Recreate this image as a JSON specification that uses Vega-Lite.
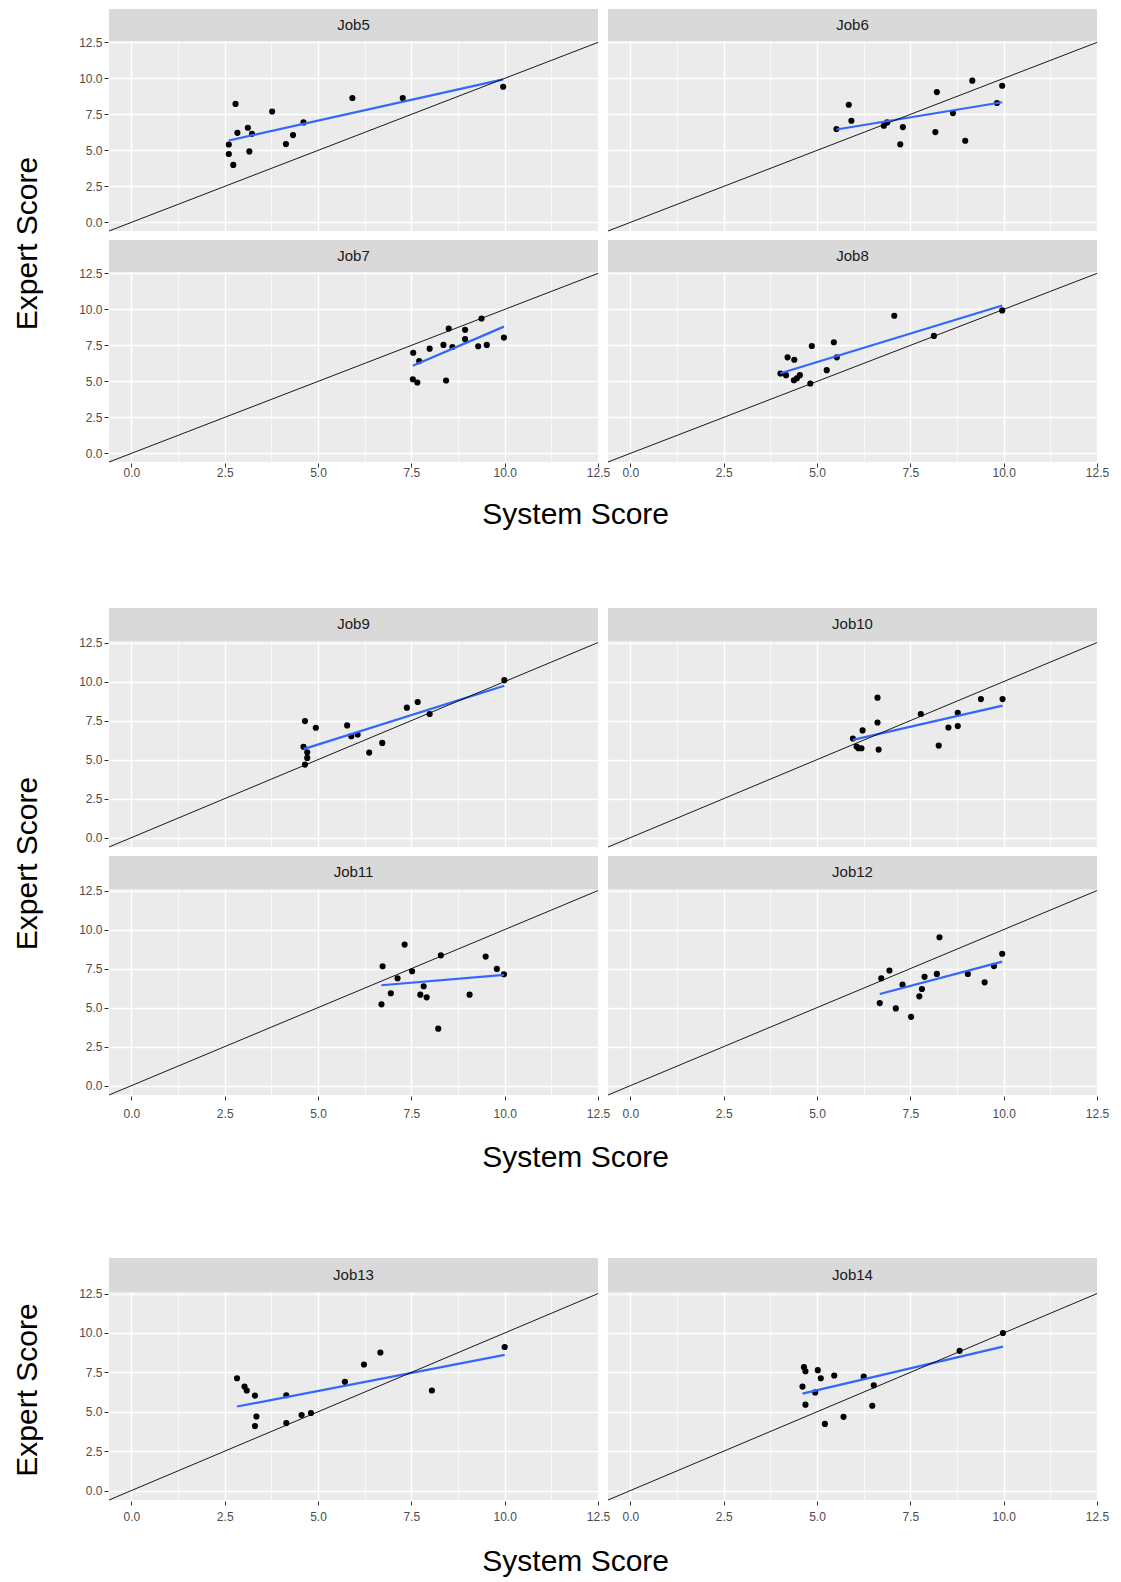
{
  "$schema": "https://vega.github.io/schema/vega-lite/v6.json",
  "background": "white",
  "padding": {"left": 12, "top": 8, "right": 10, "bottom": 4},
  "config": {
    "font": "Liberation Sans",
    "view": {"fill": "#EBEBEB", "stroke": null},
    "title": {"fontSize": 30, "fontWeight": "normal", "color": "black", "font": "Liberation Sans", "anchor": "middle"},
    "header": {"labels": false, "title": null, "labelPadding": 0, "labelFontSize": 0.01, "labelColor": "transparent"},
    "headerFacet": {"labels": false, "title": null, "labelPadding": 0, "labelFontSize": 0.01, "labelColor": "transparent"}
  },
  "datasets": {
    "scores": [
      {"job": "Job5", "system": 2.61, "expert": 5.41}, {"job": "Job5", "system": 2.61, "expert": 4.75}, {"job": "Job5", "system": 2.73, "expert": 3.99}, {"job": "Job5", "system": 2.79, "expert": 8.23}, {"job": "Job5", "system": 2.84, "expert": 6.22}, {"job": "Job5", "system": 3.12, "expert": 6.57}, {"job": "Job5", "system": 3.16, "expert": 4.93}, {"job": "Job5", "system": 3.23, "expert": 6.15}, {"job": "Job5", "system": 3.77, "expert": 7.70}, {"job": "Job5", "system": 4.14, "expert": 5.44}, {"job": "Job5", "system": 4.33, "expert": 6.06}, {"job": "Job5", "system": 4.61, "expert": 6.94}, {"job": "Job5", "system": 5.92, "expert": 8.64}, {"job": "Job5", "system": 7.27, "expert": 8.64}, {"job": "Job5", "system": 9.96, "expert": 9.42},
      {"job": "Job6", "system": 5.52, "expert": 6.48}, {"job": "Job6", "system": 5.85, "expert": 8.17}, {"job": "Job6", "system": 5.92, "expert": 7.06}, {"job": "Job6", "system": 6.79, "expert": 6.71}, {"job": "Job6", "system": 6.88, "expert": 6.94}, {"job": "Job6", "system": 7.30, "expert": 6.62}, {"job": "Job6", "system": 7.23, "expert": 5.42}, {"job": "Job6", "system": 8.17, "expert": 6.27}, {"job": "Job6", "system": 8.21, "expert": 9.05}, {"job": "Job6", "system": 8.64, "expert": 7.59}, {"job": "Job6", "system": 8.97, "expert": 5.67}, {"job": "Job6", "system": 9.16, "expert": 9.84}, {"job": "Job6", "system": 9.82, "expert": 8.29}, {"job": "Job6", "system": 9.96, "expert": 9.49},
      {"job": "Job7", "system": 7.55, "expert": 6.99}, {"job": "Job7", "system": 7.54, "expert": 5.15}, {"job": "Job7", "system": 7.66, "expert": 4.92}, {"job": "Job7", "system": 7.71, "expert": 6.41}, {"job": "Job7", "system": 7.99, "expert": 7.27}, {"job": "Job7", "system": 8.36, "expert": 7.53}, {"job": "Job7", "system": 8.50, "expert": 8.67}, {"job": "Job7", "system": 8.43, "expert": 5.06}, {"job": "Job7", "system": 8.60, "expert": 7.39}, {"job": "Job7", "system": 8.94, "expert": 8.58}, {"job": "Job7", "system": 8.94, "expert": 7.93}, {"job": "Job7", "system": 9.29, "expert": 7.44}, {"job": "Job7", "system": 9.38, "expert": 9.37}, {"job": "Job7", "system": 9.52, "expert": 7.53}, {"job": "Job7", "system": 9.98, "expert": 8.04},
      {"job": "Job8", "system": 4.02, "expert": 5.55}, {"job": "Job8", "system": 4.17, "expert": 5.43}, {"job": "Job8", "system": 4.21, "expert": 6.67}, {"job": "Job8", "system": 4.39, "expert": 6.50}, {"job": "Job8", "system": 4.38, "expert": 5.08}, {"job": "Job8", "system": 4.46, "expert": 5.22}, {"job": "Job8", "system": 4.54, "expert": 5.43}, {"job": "Job8", "system": 4.82, "expert": 4.85}, {"job": "Job8", "system": 4.86, "expert": 7.46}, {"job": "Job8", "system": 5.26, "expert": 5.78}, {"job": "Job8", "system": 5.45, "expert": 7.72}, {"job": "Job8", "system": 5.53, "expert": 6.67}, {"job": "Job8", "system": 7.07, "expert": 9.56}, {"job": "Job8", "system": 8.13, "expert": 8.16}, {"job": "Job8", "system": 9.96, "expert": 9.93},
      {"job": "Job9", "system": 4.65, "expert": 7.47}, {"job": "Job9", "system": 4.94, "expert": 7.04}, {"job": "Job9", "system": 4.61, "expert": 5.82}, {"job": "Job9", "system": 4.71, "expert": 5.47}, {"job": "Job9", "system": 4.71, "expert": 5.11}, {"job": "Job9", "system": 4.65, "expert": 4.68}, {"job": "Job9", "system": 5.78, "expert": 7.19}, {"job": "Job9", "system": 5.89, "expert": 6.50}, {"job": "Job9", "system": 6.06, "expert": 6.61}, {"job": "Job9", "system": 6.37, "expert": 5.45}, {"job": "Job9", "system": 6.72, "expert": 6.07}, {"job": "Job9", "system": 7.38, "expert": 8.33}, {"job": "Job9", "system": 7.67, "expert": 8.69}, {"job": "Job9", "system": 7.99, "expert": 7.92}, {"job": "Job9", "system": 9.99, "expert": 10.09},
      {"job": "Job10", "system": 5.96, "expert": 6.35}, {"job": "Job10", "system": 6.06, "expert": 5.84}, {"job": "Job10", "system": 6.11, "expert": 5.73}, {"job": "Job10", "system": 6.19, "expert": 5.73}, {"job": "Job10", "system": 6.22, "expert": 6.87}, {"job": "Job10", "system": 6.62, "expert": 8.97}, {"job": "Job10", "system": 6.62, "expert": 7.38}, {"job": "Job10", "system": 6.65, "expert": 5.64}, {"job": "Job10", "system": 7.78, "expert": 7.92}, {"job": "Job10", "system": 8.26, "expert": 5.90}, {"job": "Job10", "system": 8.52, "expert": 7.06}, {"job": "Job10", "system": 8.77, "expert": 8.00}, {"job": "Job10", "system": 8.77, "expert": 7.15}, {"job": "Job10", "system": 9.39, "expert": 8.88}, {"job": "Job10", "system": 9.97, "expert": 8.88},
      {"job": "Job11", "system": 6.70, "expert": 5.21}, {"job": "Job11", "system": 6.73, "expert": 7.65}, {"job": "Job11", "system": 6.95, "expert": 5.92}, {"job": "Job11", "system": 7.13, "expert": 6.88}, {"job": "Job11", "system": 7.32, "expert": 9.04}, {"job": "Job11", "system": 7.52, "expert": 7.33}, {"job": "Job11", "system": 7.74, "expert": 5.83}, {"job": "Job11", "system": 7.83, "expert": 6.37}, {"job": "Job11", "system": 7.91, "expert": 5.66}, {"job": "Job11", "system": 8.22, "expert": 3.65}, {"job": "Job11", "system": 8.29, "expert": 8.35}, {"job": "Job11", "system": 9.06, "expert": 5.83}, {"job": "Job11", "system": 9.49, "expert": 8.27}, {"job": "Job11", "system": 9.79, "expert": 7.48}, {"job": "Job11", "system": 9.98, "expert": 7.14},
      {"job": "Job12", "system": 6.68, "expert": 5.29}, {"job": "Job12", "system": 6.72, "expert": 6.88}, {"job": "Job12", "system": 6.94, "expert": 7.38}, {"job": "Job12", "system": 7.11, "expert": 4.95}, {"job": "Job12", "system": 7.29, "expert": 6.47}, {"job": "Job12", "system": 7.52, "expert": 4.41}, {"job": "Job12", "system": 7.74, "expert": 5.72}, {"job": "Job12", "system": 7.81, "expert": 6.19}, {"job": "Job12", "system": 7.88, "expert": 6.97}, {"job": "Job12", "system": 8.21, "expert": 7.16}, {"job": "Job12", "system": 8.28, "expert": 9.51}, {"job": "Job12", "system": 9.04, "expert": 7.16}, {"job": "Job12", "system": 9.49, "expert": 6.62}, {"job": "Job12", "system": 9.74, "expert": 7.66}, {"job": "Job12", "system": 9.96, "expert": 8.45},
      {"job": "Job13", "system": 2.83, "expert": 7.13}, {"job": "Job13", "system": 3.03, "expert": 6.60}, {"job": "Job13", "system": 3.09, "expert": 6.35}, {"job": "Job13", "system": 3.31, "expert": 6.03}, {"job": "Job13", "system": 3.35, "expert": 4.70}, {"job": "Job13", "system": 3.31, "expert": 4.09}, {"job": "Job13", "system": 4.15, "expert": 6.05}, {"job": "Job13", "system": 4.15, "expert": 4.28}, {"job": "Job13", "system": 4.56, "expert": 4.79}, {"job": "Job13", "system": 4.81, "expert": 4.92}, {"job": "Job13", "system": 5.72, "expert": 6.90}, {"job": "Job13", "system": 6.23, "expert": 8.00}, {"job": "Job13", "system": 6.67, "expert": 8.76}, {"job": "Job13", "system": 8.05, "expert": 6.35}, {"job": "Job13", "system": 10.0, "expert": 9.11},
      {"job": "Job14", "system": 4.65, "expert": 7.83}, {"job": "Job14", "system": 4.69, "expert": 7.57}, {"job": "Job14", "system": 5.02, "expert": 7.64}, {"job": "Job14", "system": 5.10, "expert": 7.13}, {"job": "Job14", "system": 5.46, "expert": 7.30}, {"job": "Job14", "system": 4.61, "expert": 6.60}, {"job": "Job14", "system": 4.95, "expert": 6.23}, {"job": "Job14", "system": 4.69, "expert": 5.45}, {"job": "Job14", "system": 5.21, "expert": 4.23}, {"job": "Job14", "system": 5.71, "expert": 4.68}, {"job": "Job14", "system": 6.25, "expert": 7.23}, {"job": "Job14", "system": 6.52, "expert": 6.68}, {"job": "Job14", "system": 6.48, "expert": 5.38}, {"job": "Job14", "system": 8.82, "expert": 8.87}, {"job": "Job14", "system": 9.98, "expert": 10.0}
    ]
  },
  "spacing": 77,
  "vconcat": [
    {
      "title": {"text": "System Score", "orient": "bottom", "offset": 22, "dx": 15},
      "vconcat": [{
        "title": {"text": "Expert Score", "orient": "left", "offset": 36},
        "data": {"name": "scores"},
        "transform": [{"filter": {"field": "job", "oneOf": ["Job5", "Job6", "Job7", "Job8"]}}],
        "facet": {"field": "job", "type": "nominal", "sort": ["Job5", "Job6", "Job7", "Job8"], "header": {"labels": false, "title": null, "labelPadding": 0, "labelFontSize": 0.01, "labelColor": "transparent"}},
        "columns": 2,
        "spacing": {"row": 7, "column": 8},
        "spec": {
          "width": 489, "height": 222,
          "layer": [
            {"mark": {"type": "circle", "size": 38, "color": "black", "opacity": 1},
             "encoding": {
               "x": {"field": "system", "type": "quantitative", "title": null, "scale": {"domain": [-0.6, 12.5], "nice": false, "zero": false},
                     "axis": {"values": [0, 1.25, 2.5, 3.75, 5, 6.25, 7.5, 8.75, 10, 11.25, 12.5], "labelExpr": "datum.value % 2.5 === 0 ? format(datum.value, '.1f') : ''", "gridColor": "white", "gridWidth": {"condition": {"test": "datum.value % 2.5 === 0", "value": 1.4}, "value": 0.7}, "tickOpacity": {"condition": {"test": "datum.value % 2.5 === 0", "value": 1}, "value": 0}, "domain": false, "tickColor": "#333333", "tickSize": 4, "labelColor": "#4D4D4D", "labelFontSize": 12, "labelPadding": 0, "labelFlush": false, "labelOverlap": false}},
               "y": {"field": "expert", "type": "quantitative", "title": null, "scale": {"domain": [-0.6, 14.82], "nice": false, "zero": false},
                     "axis": {"values": [0, 1.25, 2.5, 3.75, 5, 6.25, 7.5, 8.75, 10, 11.25, 12.5], "labelExpr": "datum.value % 2.5 === 0 ? format(datum.value, '.1f') : ''", "gridColor": "white", "gridWidth": {"condition": {"test": "datum.value % 2.5 === 0", "value": 1.4}, "value": 0.7}, "tickOpacity": {"condition": {"test": "datum.value % 2.5 === 0", "value": 1}, "value": 0}, "domain": false, "tickColor": "#333333", "tickSize": 4, "labelColor": "#4D4D4D", "labelFontSize": 12, "labelPadding": 2, "labelFlush": false, "labelOverlap": false}}
             }},
            {"transform": [{"regression": "expert", "on": "system", "groupby": ["job"]}],
             "mark": {"type": "line", "color": "#3366FF", "strokeWidth": 2.2},
             "encoding": {"x": {"field": "system", "type": "quantitative"}, "y": {"field": "expert", "type": "quantitative"}}},
            {"transform": [{"aggregate": [{"op": "count", "as": "n"}], "groupby": ["job"]}],
             "mark": {"type": "rule", "color": "black", "strokeWidth": 0.9},
             "encoding": {"x": {"datum": -0.6, "type": "quantitative"}, "y": {"datum": -0.6, "type": "quantitative"}, "x2": {"datum": 12.5}, "y2": {"datum": 12.5}}},
            {"transform": [{"aggregate": [{"op": "count", "as": "n"}], "groupby": ["job"]}],
             "mark": {"type": "rect", "fill": "#D9D9D9", "clip": true},
             "encoding": {"x": {"datum": -0.6, "type": "quantitative"}, "x2": {"datum": 12.5}, "y": {"datum": 12.6, "type": "quantitative"}, "y2": {"datum": 20}}},
            {"transform": [{"aggregate": [{"op": "count", "as": "n"}], "groupby": ["job"]}],
             "mark": {"type": "text", "fontSize": 15, "color": "#1A1A1A"},
             "encoding": {"x": {"datum": 5.95, "type": "quantitative"}, "y": {"datum": 13.71, "type": "quantitative"}, "text": {"field": "job", "type": "nominal"}}}
          ]
        }
      }]
    },
    {
      "spacing": 84,
      "vconcat": [
        {
          "title": {"text": "System Score", "orient": "bottom", "offset": 24, "dx": 15},
          "vconcat": [{
            "title": {"text": "Expert Score", "orient": "left", "offset": 36},
            "data": {"name": "scores"},
            "transform": [{"filter": {"field": "job", "oneOf": ["Job9", "Job10", "Job11", "Job12"]}}],
            "facet": {"field": "job", "type": "nominal", "sort": ["Job9", "Job10", "Job11", "Job12"], "header": {"labels": false, "title": null, "labelPadding": 0, "labelFontSize": 0.01, "labelColor": "transparent"}},
            "columns": 2,
            "spacing": {"row": 7, "column": 8},
            "spec": {
              "width": 489, "height": 239,
              "layer": [
                {"mark": {"type": "circle", "size": 38, "color": "black", "opacity": 1},
                 "encoding": {
                   "x": {"field": "system", "type": "quantitative", "title": null, "scale": {"domain": [-0.6, 12.5], "nice": false, "zero": false},
                         "axis": {"values": [0, 1.25, 2.5, 3.75, 5, 6.25, 7.5, 8.75, 10, 11.25, 12.5], "labelExpr": "datum.value % 2.5 === 0 ? format(datum.value, '.1f') : ''", "gridColor": "white", "gridWidth": {"condition": {"test": "datum.value % 2.5 === 0", "value": 1.4}, "value": 0.7}, "tickOpacity": {"condition": {"test": "datum.value % 2.5 === 0", "value": 1}, "value": 0}, "domain": false, "tickColor": "#333333", "tickSize": 4, "labelColor": "#4D4D4D", "labelFontSize": 12, "labelPadding": 8, "labelFlush": false, "labelOverlap": false}},
                   "y": {"field": "expert", "type": "quantitative", "title": null, "scale": {"domain": [-0.6, 14.715], "nice": false, "zero": false},
                         "axis": {"values": [0, 1.25, 2.5, 3.75, 5, 6.25, 7.5, 8.75, 10, 11.25, 12.5], "labelExpr": "datum.value % 2.5 === 0 ? format(datum.value, '.1f') : ''", "gridColor": "white", "gridWidth": {"condition": {"test": "datum.value % 2.5 === 0", "value": 1.4}, "value": 0.7}, "tickOpacity": {"condition": {"test": "datum.value % 2.5 === 0", "value": 1}, "value": 0}, "domain": false, "tickColor": "#333333", "tickSize": 4, "labelColor": "#4D4D4D", "labelFontSize": 12, "labelPadding": 2, "labelFlush": false, "labelOverlap": false}}
                 }},
                {"transform": [{"regression": "expert", "on": "system", "groupby": ["job"]}],
                 "mark": {"type": "line", "color": "#3366FF", "strokeWidth": 2.2},
                 "encoding": {"x": {"field": "system", "type": "quantitative"}, "y": {"field": "expert", "type": "quantitative"}}},
                {"transform": [{"aggregate": [{"op": "count", "as": "n"}], "groupby": ["job"]}],
                 "mark": {"type": "rule", "color": "black", "strokeWidth": 0.9},
                 "encoding": {"x": {"datum": -0.6, "type": "quantitative"}, "y": {"datum": -0.6, "type": "quantitative"}, "x2": {"datum": 12.5}, "y2": {"datum": 12.5}}},
                {"transform": [{"aggregate": [{"op": "count", "as": "n"}], "groupby": ["job"]}],
                 "mark": {"type": "rect", "fill": "#D9D9D9", "clip": true},
                 "encoding": {"x": {"datum": -0.6, "type": "quantitative"}, "x2": {"datum": 12.5}, "y": {"datum": 12.6, "type": "quantitative"}, "y2": {"datum": 20}}},
                {"transform": [{"aggregate": [{"op": "count", "as": "n"}], "groupby": ["job"]}],
                 "mark": {"type": "text", "fontSize": 15, "color": "#1A1A1A"},
                 "encoding": {"x": {"datum": 5.95, "type": "quantitative"}, "y": {"datum": 13.66, "type": "quantitative"}, "text": {"field": "job", "type": "nominal"}}}
              ]
            }
          }]
        },
        {
          "title": {"text": "System Score", "orient": "bottom", "offset": 25, "dx": 15},
          "vconcat": [{
            "title": {"text": "Expert Score", "orient": "left", "offset": 36},
            "data": {"name": "scores"},
            "transform": [{"filter": {"field": "job", "oneOf": ["Job13", "Job14"]}}],
            "facet": {"field": "job", "type": "nominal", "sort": ["Job13", "Job14"], "header": {"labels": false, "title": null, "labelPadding": 0, "labelFontSize": 0.01, "labelColor": "transparent"}},
            "columns": 2,
            "spacing": {"row": 7, "column": 8},
            "spec": {
              "width": 489, "height": 242,
              "layer": [
                {"mark": {"type": "circle", "size": 38, "color": "black", "opacity": 1},
                 "encoding": {
                   "x": {"field": "system", "type": "quantitative", "title": null, "scale": {"domain": [-0.6, 12.5], "nice": false, "zero": false},
                         "axis": {"values": [0, 1.25, 2.5, 3.75, 5, 6.25, 7.5, 8.75, 10, 11.25, 12.5], "labelExpr": "datum.value % 2.5 === 0 ? format(datum.value, '.1f') : ''", "gridColor": "white", "gridWidth": {"condition": {"test": "datum.value % 2.5 === 0", "value": 1.4}, "value": 0.7}, "tickOpacity": {"condition": {"test": "datum.value % 2.5 === 0", "value": 1}, "value": 0}, "domain": false, "tickColor": "#333333", "tickSize": 4, "labelColor": "#4D4D4D", "labelFontSize": 12, "labelPadding": 6, "labelFlush": false, "labelOverlap": false}},
                   "y": {"field": "expert", "type": "quantitative", "title": null, "scale": {"domain": [-0.6, 14.76], "nice": false, "zero": false},
                         "axis": {"values": [0, 1.25, 2.5, 3.75, 5, 6.25, 7.5, 8.75, 10, 11.25, 12.5], "labelExpr": "datum.value % 2.5 === 0 ? format(datum.value, '.1f') : ''", "gridColor": "white", "gridWidth": {"condition": {"test": "datum.value % 2.5 === 0", "value": 1.4}, "value": 0.7}, "tickOpacity": {"condition": {"test": "datum.value % 2.5 === 0", "value": 1}, "value": 0}, "domain": false, "tickColor": "#333333", "tickSize": 4, "labelColor": "#4D4D4D", "labelFontSize": 12, "labelPadding": 2, "labelFlush": false, "labelOverlap": false}}
                 }},
                {"transform": [{"regression": "expert", "on": "system", "groupby": ["job"]}],
                 "mark": {"type": "line", "color": "#3366FF", "strokeWidth": 2.2},
                 "encoding": {"x": {"field": "system", "type": "quantitative"}, "y": {"field": "expert", "type": "quantitative"}}},
                {"transform": [{"aggregate": [{"op": "count", "as": "n"}], "groupby": ["job"]}],
                 "mark": {"type": "rule", "color": "black", "strokeWidth": 0.9},
                 "encoding": {"x": {"datum": -0.6, "type": "quantitative"}, "y": {"datum": -0.6, "type": "quantitative"}, "x2": {"datum": 12.5}, "y2": {"datum": 12.5}}},
                {"transform": [{"aggregate": [{"op": "count", "as": "n"}], "groupby": ["job"]}],
                 "mark": {"type": "rect", "fill": "#D9D9D9", "clip": true},
                 "encoding": {"x": {"datum": -0.6, "type": "quantitative"}, "x2": {"datum": 12.5}, "y": {"datum": 12.6, "type": "quantitative"}, "y2": {"datum": 20}}},
                {"transform": [{"aggregate": [{"op": "count", "as": "n"}], "groupby": ["job"]}],
                 "mark": {"type": "text", "fontSize": 15, "color": "#1A1A1A"},
                 "encoding": {"x": {"datum": 5.95, "type": "quantitative"}, "y": {"datum": 13.68, "type": "quantitative"}, "text": {"field": "job", "type": "nominal"}}}
              ]
            }
          }]
        }
      ]
    }
  ]
}
